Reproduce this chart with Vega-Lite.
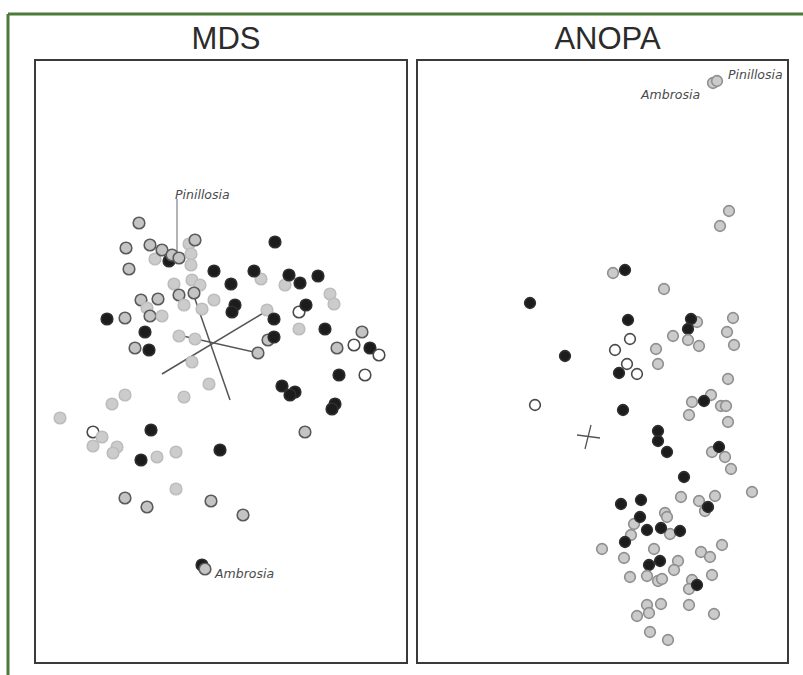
{
  "$schema": "https://vega.github.io/schema/vega-lite/v6.json",
  "background": "white",
  "padding": {"left": 5, "top": 11, "right": 0, "bottom": 0},
  "bounds": "flush",
  "spacing": 10,
  "config": {"view": {"stroke": "#3a3a3a", "strokeWidth": 2}, "font": "Liberation Sans"},
  "datasets": {
    "frame": [
      {"x": -2.13, "y": 3.48, "x2": -2.13, "y2": -3.14},
      {"x": -2.13, "y": 3.48, "x2": 5.82, "y2": 3.48}
    ],
    "mdsLines": [
      {"x": -0.26, "y": 0.63, "x2": 0.09, "y2": -0.38},
      {"x": -0.59, "y": -0.12, "x2": 0.44, "y2": 0.50},
      {"x": -0.47, "y": 0.28, "x2": 0.37, "y2": 0.09}
    ],
    "mdsPointer": [
      {"x": -0.44, "y": 1.63, "x2": -0.44, "y2": 1.07}
    ],
    "mdsLabels": [
      {"x": -0.46, "y": 1.67, "label": "Pinillosia"},
      {"x": -0.06, "y": -2.12, "label": "Ambrosia"}
    ],
    "anopaLabels": [
      {"x": 1.26, "y": 2.87, "label": "Pinillosia"},
      {"x": 0.39, "y": 2.67, "label": "Ambrosia"}
    ],
    "anopaCross": [
      {"x": -0.25, "y": -0.73, "x2": -0.02, "y2": -0.76},
      {"x": -0.11, "y": -0.63, "x2": -0.17, "y2": -0.87}
    ],
    "mds": [
      {"x": -0.82, "y": 1.39, "type": "gD"},
      {"x": -0.95, "y": 1.14, "type": "gD"},
      {"x": -0.71, "y": 1.17, "type": "gD"},
      {"x": -0.66, "y": 1.03, "type": "gL"},
      {"x": -0.52, "y": 1.01, "type": "B"},
      {"x": -0.59, "y": 1.12, "type": "gD"},
      {"x": -0.49, "y": 1.07, "type": "gD"},
      {"x": -0.42, "y": 1.04, "type": "gD"},
      {"x": -0.32, "y": 1.18, "type": "gL"},
      {"x": -0.26, "y": 1.22, "type": "gD"},
      {"x": -0.30, "y": 1.08, "type": "gL"},
      {"x": -0.30, "y": 0.97, "type": "gL"},
      {"x": -0.92, "y": 0.93, "type": "gD"},
      {"x": -0.07, "y": 0.91, "type": "B"},
      {"x": -0.47, "y": 0.78, "type": "gL"},
      {"x": -0.29, "y": 0.82, "type": "gL"},
      {"x": -0.21, "y": 0.77, "type": "gL"},
      {"x": -0.42, "y": 0.67, "type": "gD"},
      {"x": -0.27, "y": 0.69, "type": "gD"},
      {"x": -0.37, "y": 0.57, "type": "gL"},
      {"x": -0.07, "y": 0.62, "type": "gL"},
      {"x": -0.19, "y": 0.53, "type": "gL"},
      {"x": -0.80, "y": 0.62, "type": "gD"},
      {"x": -0.63, "y": 0.63, "type": "gD"},
      {"x": -0.74, "y": 0.54, "type": "gL"},
      {"x": -0.71, "y": 0.46, "type": "gD"},
      {"x": -0.59, "y": 0.46, "type": "gL"},
      {"x": -0.96, "y": 0.44, "type": "gD"},
      {"x": -1.14, "y": 0.43, "type": "B"},
      {"x": -0.76, "y": 0.30, "type": "B"},
      {"x": -0.86, "y": 0.14, "type": "gD"},
      {"x": -0.72, "y": 0.12, "type": "B"},
      {"x": -0.42, "y": 0.26, "type": "gL"},
      {"x": -0.26, "y": 0.23, "type": "gL"},
      {"x": -0.29, "y": 0.00, "type": "gL"},
      {"x": 0.54, "y": 1.20, "type": "B"},
      {"x": 0.40, "y": 0.83, "type": "gL"},
      {"x": 0.33, "y": 0.91, "type": "B"},
      {"x": 0.10, "y": 0.78, "type": "B"},
      {"x": 0.64, "y": 0.77, "type": "gL"},
      {"x": 0.68, "y": 0.87, "type": "B"},
      {"x": 0.79, "y": 0.79, "type": "B"},
      {"x": 0.97, "y": 0.86, "type": "B"},
      {"x": 1.09, "y": 0.68, "type": "gL"},
      {"x": 1.13, "y": 0.58, "type": "gL"},
      {"x": 0.14, "y": 0.57, "type": "B"},
      {"x": 0.11, "y": 0.50, "type": "B"},
      {"x": 0.46, "y": 0.52, "type": "gL"},
      {"x": 0.53, "y": 0.43, "type": "B"},
      {"x": 0.78, "y": 0.50, "type": "W"},
      {"x": 0.85, "y": 0.57, "type": "B"},
      {"x": 0.78, "y": 0.33, "type": "gL"},
      {"x": 1.04, "y": 0.33, "type": "B"},
      {"x": 0.47, "y": 0.22, "type": "gD"},
      {"x": 0.53, "y": 0.25, "type": "B"},
      {"x": 1.41, "y": 0.30, "type": "gD"},
      {"x": 1.16, "y": 0.14, "type": "gD"},
      {"x": 1.33, "y": 0.17, "type": "W"},
      {"x": 1.49, "y": 0.14, "type": "B"},
      {"x": 1.58, "y": 0.07, "type": "W"},
      {"x": 0.37, "y": 0.09, "type": "gD"},
      {"x": 1.18, "y": -0.13, "type": "B"},
      {"x": 1.44, "y": -0.13, "type": "W"},
      {"x": -0.12, "y": -0.22, "type": "gL"},
      {"x": 0.61, "y": -0.24, "type": "B"},
      {"x": 0.74, "y": -0.30, "type": "B"},
      {"x": 0.69, "y": -0.33, "type": "B"},
      {"x": 1.14, "y": -0.42, "type": "B"},
      {"x": 1.11, "y": -0.47, "type": "B"},
      {"x": 0.84, "y": -0.70, "type": "gD"},
      {"x": -0.96, "y": -0.33, "type": "gL"},
      {"x": -1.09, "y": -0.42, "type": "gL"},
      {"x": -0.37, "y": -0.35, "type": "gL"},
      {"x": -1.61, "y": -0.56, "type": "gL"},
      {"x": -1.28, "y": -0.70, "type": "W"},
      {"x": -1.19, "y": -0.75, "type": "gL"},
      {"x": -1.28, "y": -0.84, "type": "gL"},
      {"x": -1.04, "y": -0.85, "type": "gL"},
      {"x": -1.08, "y": -0.91, "type": "gL"},
      {"x": -0.70, "y": -0.68, "type": "B"},
      {"x": -0.01, "y": -0.88, "type": "B"},
      {"x": -0.80, "y": -0.98, "type": "B"},
      {"x": -0.64, "y": -0.95, "type": "gL"},
      {"x": -0.45, "y": -0.90, "type": "gL"},
      {"x": -0.96, "y": -1.36, "type": "gD"},
      {"x": -0.74, "y": -1.45, "type": "gD"},
      {"x": -0.45, "y": -1.27, "type": "gL"},
      {"x": -0.10, "y": -1.39, "type": "gD"},
      {"x": 0.22, "y": -1.53, "type": "gD"},
      {"x": -0.19, "y": -2.03, "type": "B"},
      {"x": -0.16, "y": -2.07, "type": "gD"}
    ],
    "anopa": [
      {"x": 1.11, "y": 2.79, "type": "gM"},
      {"x": 1.15, "y": 2.81, "type": "gM"},
      {"x": 1.27, "y": 1.51, "type": "gM"},
      {"x": 1.18, "y": 1.36, "type": "gM"},
      {"x": 0.23, "y": 0.92, "type": "B"},
      {"x": 0.11, "y": 0.89, "type": "gM"},
      {"x": 0.62, "y": 0.73, "type": "gM"},
      {"x": -0.72, "y": 0.59, "type": "B"},
      {"x": 0.26, "y": 0.42, "type": "B"},
      {"x": 0.95, "y": 0.40, "type": "gM"},
      {"x": 0.89, "y": 0.43, "type": "B"},
      {"x": 0.86, "y": 0.33, "type": "B"},
      {"x": 0.71, "y": 0.26, "type": "gM"},
      {"x": 0.86, "y": 0.22, "type": "gM"},
      {"x": 0.97, "y": 0.16, "type": "gM"},
      {"x": 1.31, "y": 0.44, "type": "gM"},
      {"x": 1.25, "y": 0.30, "type": "gM"},
      {"x": 1.32, "y": 0.17, "type": "gM"},
      {"x": 0.28, "y": 0.23, "type": "W"},
      {"x": 0.13, "y": 0.12, "type": "W"},
      {"x": 0.54, "y": 0.13, "type": "gM"},
      {"x": 0.56, "y": -0.02, "type": "gM"},
      {"x": -0.37, "y": 0.06, "type": "B"},
      {"x": 0.25, "y": -0.02, "type": "W"},
      {"x": 0.17, "y": -0.11, "type": "B"},
      {"x": 0.35, "y": -0.12, "type": "W"},
      {"x": 1.26, "y": -0.17, "type": "gM"},
      {"x": -0.67, "y": -0.43, "type": "W"},
      {"x": 0.21, "y": -0.48, "type": "B"},
      {"x": 0.90, "y": -0.40, "type": "gM"},
      {"x": 1.09, "y": -0.33, "type": "gM"},
      {"x": 1.02, "y": -0.39, "type": "B"},
      {"x": 0.87, "y": -0.53, "type": "gM"},
      {"x": 1.19, "y": -0.44, "type": "gM"},
      {"x": 1.24, "y": -0.44, "type": "gM"},
      {"x": 1.26, "y": -0.60, "type": "gM"},
      {"x": 0.56, "y": -0.69, "type": "B"},
      {"x": 0.56, "y": -0.79, "type": "B"},
      {"x": 0.65, "y": -0.90, "type": "B"},
      {"x": 1.10, "y": -0.90, "type": "gM"},
      {"x": 1.17, "y": -0.85, "type": "B"},
      {"x": 1.23, "y": -0.95, "type": "gM"},
      {"x": 1.29, "y": -1.07, "type": "gM"},
      {"x": 0.82, "y": -1.15, "type": "B"},
      {"x": 1.50, "y": -1.30, "type": "gM"},
      {"x": 0.79, "y": -1.35, "type": "gM"},
      {"x": 0.97, "y": -1.39, "type": "gM"},
      {"x": 1.13, "y": -1.34, "type": "gM"},
      {"x": 1.03, "y": -1.49, "type": "gM"},
      {"x": 1.06, "y": -1.45, "type": "B"},
      {"x": 0.19, "y": -1.42, "type": "B"},
      {"x": 0.39, "y": -1.38, "type": "B"},
      {"x": 0.63, "y": -1.51, "type": "gM"},
      {"x": 0.65, "y": -1.55, "type": "gM"},
      {"x": 0.32, "y": -1.62, "type": "gM"},
      {"x": 0.38, "y": -1.55, "type": "B"},
      {"x": 0.68, "y": -1.72, "type": "gM"},
      {"x": 0.45, "y": -1.68, "type": "B"},
      {"x": 0.59, "y": -1.66, "type": "B"},
      {"x": 0.78, "y": -1.69, "type": "B"},
      {"x": 0.29, "y": -1.73, "type": "gM"},
      {"x": 0.23, "y": -1.80, "type": "B"},
      {"x": 0.00, "y": -1.87, "type": "gM"},
      {"x": 0.52, "y": -1.87, "type": "gM"},
      {"x": 0.22, "y": -1.96, "type": "gM"},
      {"x": 0.99, "y": -1.90, "type": "gM"},
      {"x": 1.08, "y": -1.95, "type": "gM"},
      {"x": 1.20, "y": -1.83, "type": "gM"},
      {"x": 0.76, "y": -1.99, "type": "gM"},
      {"x": 0.72, "y": -2.08, "type": "gM"},
      {"x": 0.47, "y": -2.03, "type": "B"},
      {"x": 0.58, "y": -1.99, "type": "B"},
      {"x": 0.28, "y": -2.15, "type": "gM"},
      {"x": 0.45, "y": -2.14, "type": "gM"},
      {"x": 0.56, "y": -2.19, "type": "gM"},
      {"x": 0.60, "y": -2.17, "type": "gM"},
      {"x": 0.90, "y": -2.18, "type": "gM"},
      {"x": 0.87, "y": -2.27, "type": "gM"},
      {"x": 0.95, "y": -2.23, "type": "B"},
      {"x": 1.10, "y": -2.13, "type": "gM"},
      {"x": 0.45, "y": -2.43, "type": "gM"},
      {"x": 0.59, "y": -2.42, "type": "gM"},
      {"x": 0.87, "y": -2.43, "type": "gM"},
      {"x": 0.35, "y": -2.54, "type": "gM"},
      {"x": 0.47, "y": -2.51, "type": "gM"},
      {"x": 1.12, "y": -2.52, "type": "gM"},
      {"x": 0.48, "y": -2.70, "type": "gM"},
      {"x": 0.66, "y": -2.78, "type": "gM"}
    ]
  },
  "hconcat": [
    {
      "width": 372,
      "height": 603,
      "title": {"text": "MDS", "fontSize": 31, "fontWeight": "normal", "color": "#2b2b2b", "font": "Liberation Sans", "frame": "group", "baseline": "bottom", "offset": -74, "dx": 5, "anchor": "middle"},
      "encoding": {
        "x": {"field": "x", "type": "quantitative", "scale": {"domain": [-1.86, 1.86], "nice": false, "zero": false}, "axis": null},
        "y": {"field": "y", "type": "quantitative", "scale": {"domain": [-3.01, 3.02], "nice": false, "zero": false}, "axis": null}
      },
      "layer": [
        {
          "data": {"name": "frame"},
          "mark": {"type": "rule", "stroke": "#4d7a3a", "strokeWidth": 3},
          "encoding": {"x2": {"field": "x2"}, "y2": {"field": "y2"}}
        },
        {
          "data": {"name": "mdsLines"},
          "mark": {"type": "rule", "stroke": "#555555", "strokeWidth": 1.5},
          "encoding": {"x2": {"field": "x2"}, "y2": {"field": "y2"}}
        },
        {
          "data": {"name": "mdsPointer"},
          "mark": {"type": "rule", "stroke": "#9a9a9a", "strokeWidth": 1.5},
          "encoding": {"x2": {"field": "x2"}, "y2": {"field": "y2"}}
        },
        {
          "data": {"name": "mds"},
          "mark": {"type": "point", "shape": "circle", "filled": true, "size": 135, "strokeWidth": 1.6, "opacity": 1},
          "encoding": {
            "fill": {"field": "type", "type": "nominal", "legend": null, "scale": {"domain": ["B", "gD", "gM", "gL", "W"], "range": ["#1c1c1c", "#c4c4c4", "#cbcbcb", "#cccccc", "#ffffff"]}},
            "stroke": {"field": "type", "type": "nominal", "legend": null, "scale": {"domain": ["B", "gD", "gM", "gL", "W"], "range": ["#2e2e2e", "#5a5a5a", "#8f8f8f", "#bdbdbd", "#4a4a4a"]}}
          }
        },
        {
          "data": {"name": "mdsLabels"},
          "mark": {"type": "text", "align": "left", "baseline": "middle", "font": "DejaVu Sans", "fontStyle": "italic", "fontSize": 12.5, "color": "#4a4a4a"},
          "encoding": {"text": {"field": "label"}}
        }
      ]
    },
    {
      "width": 371,
      "height": 603,
      "title": {"text": "ANOPA", "fontSize": 31, "fontWeight": "normal", "color": "#2b2b2b", "font": "Liberation Sans", "frame": "group", "baseline": "bottom", "offset": -27, "dx": 5, "anchor": "middle"},
      "encoding": {
        "x": {"field": "x", "type": "quantitative", "scale": {"domain": [-1.85, 1.86], "nice": false, "zero": false}, "axis": null},
        "y": {"field": "y", "type": "quantitative", "scale": {"domain": [-3.01, 3.02], "nice": false, "zero": false}, "axis": null}
      },
      "layer": [
        {
          "data": {"name": "anopaCross"},
          "mark": {"type": "rule", "stroke": "#555555", "strokeWidth": 1.3},
          "encoding": {"x2": {"field": "x2"}, "y2": {"field": "y2"}}
        },
        {
          "data": {"name": "anopa"},
          "mark": {"type": "point", "shape": "circle", "filled": true, "size": 115, "strokeWidth": 1.6, "opacity": 1},
          "encoding": {
            "fill": {"field": "type", "type": "nominal", "legend": null, "scale": {"domain": ["B", "gD", "gM", "gL", "W"], "range": ["#1c1c1c", "#c6c6c6", "#cbcbcb", "#cfcfcf", "#ffffff"]}},
            "stroke": {"field": "type", "type": "nominal", "legend": null, "scale": {"domain": ["B", "gD", "gM", "gL", "W"], "range": ["#2e2e2e", "#5a5a5a", "#939393", "#bdbdbd", "#6a6a6a"]}}
          }
        },
        {
          "data": {"name": "anopaLabels"},
          "mark": {"type": "text", "align": "left", "baseline": "middle", "font": "DejaVu Sans", "fontStyle": "italic", "fontSize": 12.5, "color": "#4a4a4a"},
          "encoding": {"text": {"field": "label"}}
        }
      ]
    }
  ]
}
